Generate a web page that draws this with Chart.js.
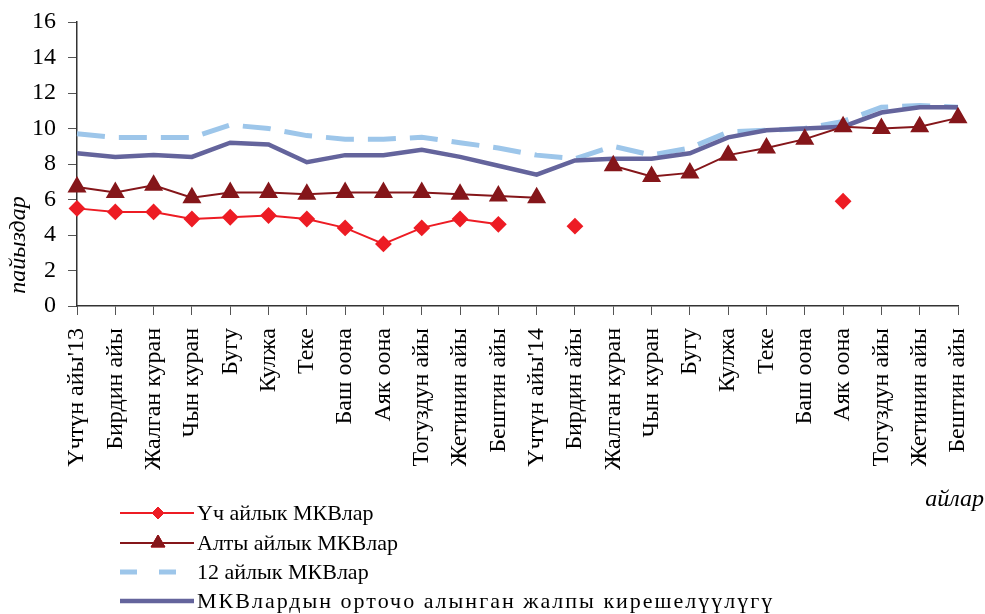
<!DOCTYPE html>
<html lang="ky">
<head>
<meta charset="UTF-8">
<title>МКВлар</title>
<script src="https://cdn.jsdelivr.net/npm/chart.js"></script>
<style>
  body { margin: 0; background: #fff; }
  #rates { display: block; }
</style>
</head>
<body>
<canvas id="rates" width="985" height="614"></canvas>
<script>
// categories: months of 2013 - 2014
const months = [
  "Үчтүн айы'13", 'Бирдин айы', 'Жалган куран', 'Чын куран', 'Бугу', 'Кулжа',
  'Теке', 'Баш оона', 'Аяк оона', 'Тогуздун айы', 'Жетинин айы', 'Бештин айы',
  "Үчтүн айы'14", 'Бирдин айы', 'Жалган куран', 'Чын куран', 'Бугу', 'Кулжа',
  'Теке', 'Баш оона', 'Аяк оона', 'Тогуздун айы', 'Жетинин айы', 'Бештин айы'
];

// yields, % (null = no auction that month)
const threeMonth = [5.5, 5.3, 5.3, 4.9, 5.0, 5.1, 4.9, 4.4, 3.5, 4.4, 4.9, 4.6,
  null, 4.5, null, null, null, null, null, null, 5.9, null, null, null];
const sixMonth = [6.7, 6.4, 6.8, 6.1, 6.4, 6.4, 6.3, 6.4, 6.4, 6.4, 6.3, 6.2,
  6.1, null, 7.9, 7.3, 7.5, 8.5, 8.9, 9.4, 10.1, 10.0, 10.1, 10.6];
const twelveMonth = [9.7, 9.5, 9.5, 9.5, 10.2, 10.0, 9.6, 9.4, 9.4, 9.5, 9.2, 8.9,
  8.5, 8.3, 9.0, 8.5, 8.9, 9.8, 9.9, 10.0, 10.4, 11.2, 11.3, 11.2];
const weightedAvg = [8.6, 8.4, 8.5, 8.4, 9.2, 9.1, 8.1, 8.5, 8.5, 8.8, 8.4, 7.9,
  7.4, 8.2, 8.3, 8.3, 8.6, 9.5, 9.9, 10.0, 10.1, 10.9, 11.2, 11.2];

const seriesNames = ['Үч айлык МКВлар', 'Алты айлык МКВлар', '12 айлык МКВлар',
  'МКВлардын орточо алынган жалпы кирешелүүлүгү'];

const yMin = 0, yMax = 16, yStep = 2;

const serif = 'Liberation Serif';

// axis titles and the legend are drawn by hand to sit where the original has them
const extras = {
  id: 'extras',
  afterDraw(chart) {
    const ctx = chart.ctx;
    ctx.save();
    ctx.fillStyle = '#000';
    ctx.font = 'italic 24px "' + serif + '"';
    ctx.textAlign = 'center';
    ctx.textBaseline = 'middle';
    ctx.save();
    ctx.translate(19, 245);
    ctx.rotate(-Math.PI / 2);
    ctx.fillText('пайыздар', 0, 0);
    ctx.restore();
    ctx.textAlign = 'right';
    ctx.fillText('айлар', 984, 500);

    // legend
    const rows = [513, 543, 572, 601];
    ctx.font = '22px "' + serif + '"';
    ctx.textAlign = 'left';
    chart.data.datasets.forEach((ds, i) => {
      const y = rows[i];
      ctx.save();
      ctx.strokeStyle = ds.borderColor;
      ctx.lineWidth = ds.borderWidth;
      ctx.setLineDash(ds.legendDash || []);
      ctx.beginPath();
      ctx.moveTo(120, y);
      ctx.lineTo(194, y);
      ctx.stroke();
      ctx.restore();
      if (ds.pointRadius > 0) {
        Chart.helpers.drawPoint(ctx, {
          pointStyle: ds.pointStyle,
          radius: ds.pointRadius - 1,
          borderWidth: 1
        }, 158, y);
        ctx.fillStyle = ds.pointBackgroundColor;
        ctx.strokeStyle = ds.pointBorderColor;
        ctx.lineWidth = 1;
        ctx.fill();
        ctx.stroke();
      }
      ctx.fillStyle = '#000';
      ctx.letterSpacing = ds.legendSpacing || '0px';
      ctx.fillText(ds.label, 197, y + 1);
      ctx.letterSpacing = '0px';
    });
    ctx.restore();
  }
};

new Chart(document.getElementById('rates'), {
  type: 'line',
  data: {
    labels: months,
    datasets: [
      {
        label: seriesNames[0], data: threeMonth, order: 0,
        borderColor: '#ed1c24', borderWidth: 2,
        pointStyle: 'rectRot', pointRadius: 7,
        pointBackgroundColor: '#ed1c24', pointBorderColor: '#ed1c24'
      },
      {
        label: seriesNames[1], data: sixMonth, order: 1,
        borderColor: '#85161a', borderWidth: 2,
        pointStyle: 'triangle', pointRadius: 9,
        pointBackgroundColor: '#85161a', pointBorderColor: '#85161a'
      },
      {
        label: seriesNames[2], data: twelveMonth, order: 3,
        borderColor: '#9dc6ea', borderWidth: 5, borderDash: [28, 14],
        legendDash: [17, 22],
        pointRadius: 0
      },
      {
        label: seriesNames[3], data: weightedAvg, order: 2,
        borderColor: '#64649c', borderWidth: 4.5,
        legendSpacing: '2px',
        pointRadius: 0
      }
    ]
  },
  options: {
    responsive: false,
    animation: false,
    spanGaps: false,
    layout: { padding: { top: 22, right: 27, left: 0, bottom: 0 } },
    plugins: {
      legend: { display: false },
      tooltip: { enabled: false }
    },
    scales: {
      x: {
        offset: false,
        afterFit(scale) {
          scale.height = 308;
          scale.paddingLeft = 0;
          scale.paddingRight = 0;
        },
        border: { color: '#333', width: 1.5 },
        grid: { drawOnChartArea: false, tickLength: 9, color: '#555', offset: false },
        ticks: {
          autoSkip: false, maxRotation: 90, minRotation: 90, padding: 13,
          color: '#000', font: { family: serif, size: 24 }
        }
      },
      y: {
        min: yMin, max: yMax,
        afterFit(scale) {
          scale.width = 77;
          scale.paddingTop = 0;
          scale.paddingBottom = 0;
        },
        border: { color: '#333', width: 1.5 },
        grid: { drawOnChartArea: false, tickLength: 9, color: '#555' },
        ticks: {
          stepSize: yStep, padding: 12,
          color: '#000', font: { family: serif, size: 24 }
        }
      }
    }
  },
  plugins: [extras]
});
</script>
</body>
</html>
